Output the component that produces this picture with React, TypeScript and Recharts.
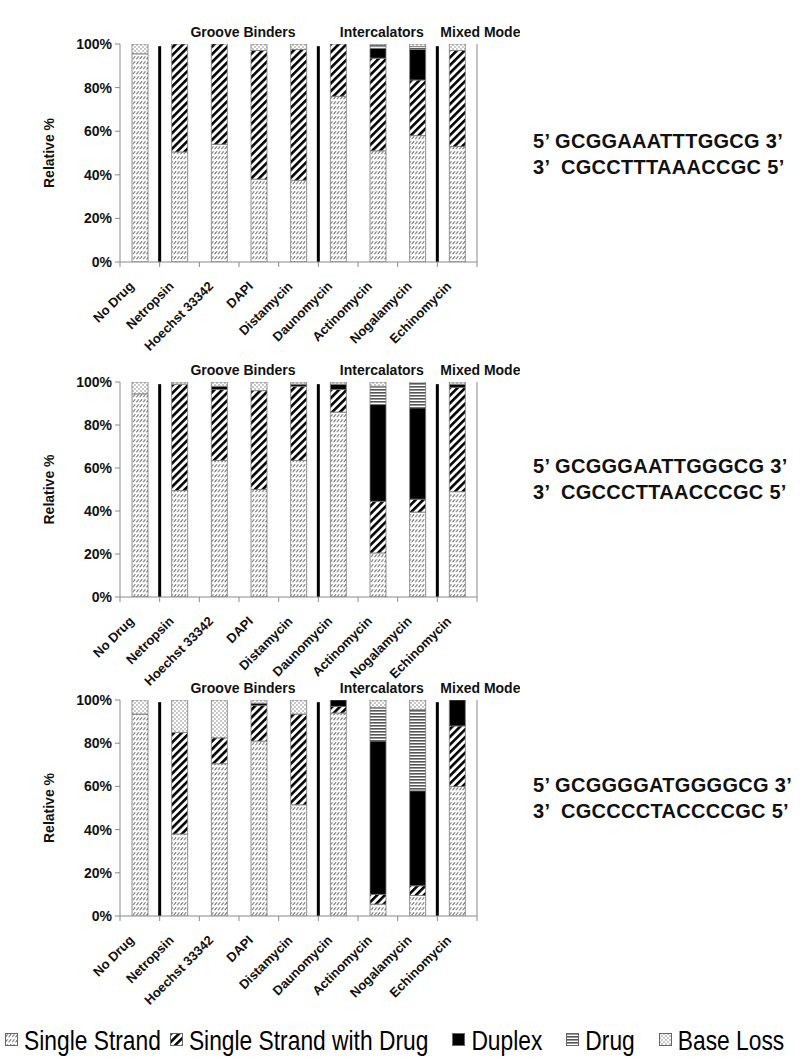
import React from 'react';
import { BarChart, Bar, XAxis, YAxis, ReferenceLine, ReferenceArea } from 'recharts';

const categories = [
  'No Drug', 'Netropsin', 'Hoechst 33342', 'DAPI', 'Distamycin',
  'Daunomycin', 'Actinomycin', 'Nogalamycin', 'Echinomycin',
];

const seriesKeys = ['ss', 'ssd', 'duplex', 'drug', 'baseLoss'];
const seriesNames = ['Single Strand', 'Single Strand with Drug', 'Duplex', 'Drug', 'Base Loss'];
const seriesFills = ['url(#pat-ss)', 'url(#pat-ssd)', '#000', 'url(#pat-drug)', 'url(#pat-bl)'];

const percentTicks = [0, 20, 40, 60, 80, 100];
const separators = ['Netropsin', 'Daunomycin', 'Echinomycin'];
const groups = [
  { name: 'Groove Binders', from: 'Netropsin', to: 'Distamycin' },
  { name: 'Intercalators', from: 'Daunomycin', to: 'Nogalamycin' },
  { name: 'Mixed Mode', from: 'Echinomycin', to: 'Echinomycin' },
];

// GCGGAAATTTGGCG
const ssA = [95.5, 50.5, 54, 38, 37.5, 76, 51, 58, 53];
const ssdA = [0, 49.5, 46, 59, 60, 24, 42.5, 25.5, 44];
const duplexA = [0, 0, 0, 0, 0, 0, 4.5, 14, 0];
const drugA = [0, 0, 0, 0, 0, 0, 1.5, 1.3, 0];
const baseLossA = [4.5, 0, 0, 3, 2.5, 0, 0.5, 1.2, 3];
const seqA = ['5’ GCGGAAATTTGGCG 3’', '3’  CGCCTTTAAACCGC 5’'];

// GCGGGAATTGGGCG
const ssB = [94.5, 49.5, 63.5, 50, 63.5, 86, 20.5, 39.5, 49];
const ssdB = [0, 49.5, 33, 46, 34.5, 10.5, 24, 6, 48.5];
const duplexB = [0, 0, 1.5, 0, 1, 2.5, 45, 42.5, 1.5];
const drugB = [0, 0, 0, 0, 0, 0, 8.5, 12, 0];
const baseLossB = [5.5, 1, 2, 4, 1, 1, 2, 0, 1];
const seqB = ['5’ GCGGGAATTGGGCG 3’', '3’  CGCCCTTAACCCGC 5’'];

// GCGGGGATGGGGCG
const ssC = [93.5, 38, 70.5, 81, 51.5, 94, 5.5, 9.5, 60];
const ssdC = [0, 47, 12, 16.5, 42, 3, 4.5, 4.5, 28];
const duplexC = [0, 0, 0, 1, 0, 3, 71, 44, 12];
const drugC = [0, 0, 0, 0, 0, 0, 15.5, 37.5, 0];
const baseLossC = [6.5, 15, 17.5, 1.5, 6.5, 0, 3.5, 4.5, 0];
const seqC = ['5’ GCGGGGATGGGGCG 3’', '3’  CGCCCCTACCCCGC 5’'];

const buildRows = (cols: number[][]) =>
  categories.map((name, i) => {
    const row: any = { name };
    seriesKeys.forEach((k, s) => (row[k] = cols[s][i]));
    return row;
  });

const panels = [
  { rows: buildRows([ssA, ssdA, duplexA, drugA, baseLossA]), seq: seqA, top: 0, height: 360, seqTop: 128 },
  { rows: buildRows([ssB, ssdB, duplexB, drugB, baseLossB]), seq: seqB, top: 338, height: 357, seqTop: 453 },
  { rows: buildRows([ssC, ssdC, duplexC, drugC, baseLossC]), seq: seqC, top: 656, height: 358, seqTop: 772 },
];

const FONT = '"Liberation Sans", Arial, sans-serif';
const AXIS = '#8a8a8a';

function Patterns() {
  return (
    <svg width={0} height={0} style={{ position: 'absolute' }}>
      <defs>
        <pattern id="pat-ss" width={3.4} height={5} patternUnits="userSpaceOnUse">
          <rect width={3.4} height={5} fill="#fff" />
          <path d="M0.3 4.3 L2.7 1.2" stroke="#555" strokeWidth={0.9} />
        </pattern>
        <pattern id="pat-ssd" width={5.5} height={5.5} patternUnits="userSpaceOnUse" patternTransform="rotate(45)">
          <rect width={5.5} height={5.5} fill="#fff" />
          <rect width={2.6} height={5.5} fill="#000" />
        </pattern>
        <pattern id="pat-drug" width={4} height={3} patternUnits="userSpaceOnUse">
          <rect width={4} height={3} fill="#fff" />
          <rect width={4} height={1.6} fill="#555" />
        </pattern>
        <pattern id="pat-bl" width={4} height={4} patternUnits="userSpaceOnUse">
          <rect width={4} height={4} fill="#fff" />
          <circle cx={1} cy={1} r={0.65} fill="#666" />
          <circle cx={3} cy={3} r={0.65} fill="#666" />
        </pattern>
      </defs>
    </svg>
  );
}

function CategoryTick(props: any) {
  const { x, y, payload, index, visibleTicksCount, width } = props;
  const half = payload.offset || width / visibleTicksCount / 2;
  const last = index === visibleTicksCount - 1;
  return (
    <g>
      <line x1={x - half} x2={x - half} y1={y - 5} y2={y} stroke={AXIS} />
      {last && <line x1={x + half} x2={x + half} y1={y - 5} y2={y} stroke={AXIS} />}
      <text
        transform={`translate(${x - 5},${y + 20}) rotate(-45)`}
        textAnchor="end"
        fontSize={13}
        fontWeight="bold"
        fontFamily={FONT}
        fill="#111"
      >
        {payload.value}
      </text>
    </g>
  );
}

function YTitle(props: any) {
  const { viewBox } = props;
  const cx = viewBox.x + 19;
  const cy = viewBox.y + viewBox.height / 2;
  return (
    <text transform={`translate(${cx},${cy}) rotate(-90)`} textAnchor="middle" dominantBaseline="central"
      fontSize={14} fontWeight="bold" fontFamily={FONT} fill="#111">
      Relative %
    </text>
  );
}

function GroupLabel(props: any) {
  const { viewBox, text, start } = props;
  const x = start ? viewBox.x + 3 : viewBox.x + viewBox.width / 2 + 4;
  return (
    <text x={x} y={viewBox.y - 7} textAnchor={start ? 'start' : 'middle'}
      fontSize={14} fontWeight="bold" fontFamily={FONT} fill="#111">
      {text}
    </text>
  );
}

function Panel({ rows, seq, top, height, seqTop }: any) {
  return (
    <>
      <div style={{ position: 'absolute', left: 0, top }}>
        <BarChart width={520} height={height} data={rows} margin={{ top: 44, right: 43, bottom: 8, left: 30 }}>
          <XAxis
            dataKey="name"
            interval={0}
            height={90}
            tickLine={false}
            tickSize={5}
            tickMargin={0}
            axisLine={{ stroke: AXIS }}
            tick={<CategoryTick />}
          />
          <YAxis
            width={90}
            domain={[0, 100]}
            allowDataOverflow
            ticks={percentTicks}
            tickFormatter={(v: number) => `${v}%`}
            tickSize={5}
            tickMargin={3}
            axisLine={{ stroke: AXIS }}
            tickLine={{ stroke: AXIS }}
            tick={{ fontSize: 14, fontWeight: 'bold', fill: '#111', fontFamily: FONT }}
            label={<YTitle />}
          />
          {groups.map((g, i) => (
            <ReferenceArea
              key={g.name}
              x1={g.from}
              x2={g.to}
              y1={0}
              y2={100}
              fill="none"
              stroke="none"
              label={<GroupLabel text={g.name} start={i === groups.length - 1} />}
            />
          ))}
          {seriesKeys.map((k, s) => (
            <Bar
              key={k}
              dataKey={k}
              name={seriesNames[s]}
              stackId="a"
              fill={seriesFills[s]}
              stroke="#7a7a7a"
              strokeWidth={0.8}
              barSize={16}
              isAnimationActive={false}
            />
          ))}
          {separators.map((c) => (
            <ReferenceLine
              key={c}
              position="start"
              segment={[{ x: c, y: 0 }, { x: c, y: 99 }]}
              stroke="#000"
              strokeWidth={3}
            />
          ))}
          <ReferenceLine x="Echinomycin" position="end" stroke={AXIS} />
        </BarChart>
      </div>
      <div
        style={{
          position: 'absolute', left: 533, top: seqTop, fontFamily: FONT, fontWeight: 'bold',
          fontSize: 20, lineHeight: '26px', whiteSpace: 'pre', color: '#111', letterSpacing: 0.3,
        }}
      >
        {seq.map((line: string) => (
          <div key={line}>{line}</div>
        ))}
      </div>
    </>
  );
}

function LegendRow() {
  return (
    <div
      style={{
        position: 'absolute', left: 5, top: 1025, width: 795, display: 'flex', flexWrap: 'nowrap',
        alignItems: 'center', fontFamily: FONT, whiteSpace: 'nowrap',
      }}
    >
      {seriesNames.map((n, s) => (
        <div key={n} style={{ display: 'flex', flexShrink: 0, alignItems: 'center', marginRight: s === 0 ? 9 : 24 }}>
          <svg width={14} height={14} style={{ marginRight: 5, flexShrink: 0 }}>
            <rect x={0.5} y={0.5} width={12} height={12} fill={seriesFills[s]} stroke="#666" />
          </svg>
          <span
            style={{
              fontSize: 22.8, display: 'inline-block', transform: 'scaleY(1.22)', lineHeight: '30px',
              color: '#000', whiteSpace: 'nowrap',
            }}
          >
            {n}
          </span>
        </div>
      ))}
    </div>
  );
}

export default function App() {
  return (
    <div style={{ position: 'absolute', left: 0, top: 0, width: 800, height: 1059, background: '#fff' }}>
      <Patterns />
      {panels.map((p, i) => (
        <Panel key={i} {...p} />
      ))}
      <LegendRow />
    </div>
  );
}
